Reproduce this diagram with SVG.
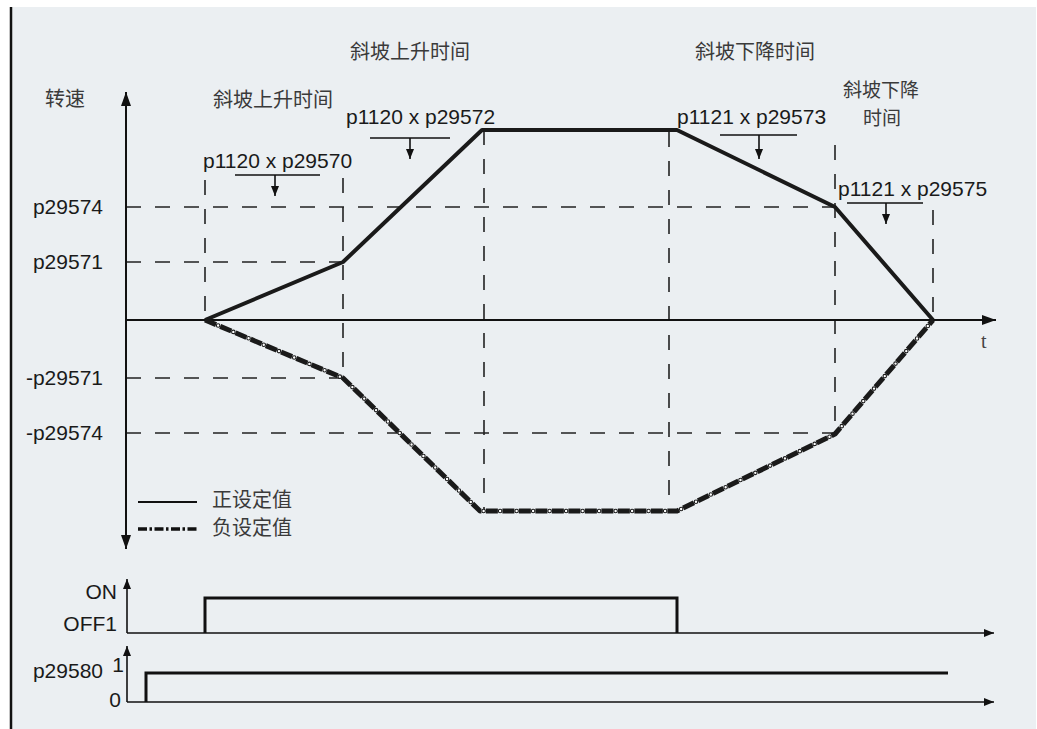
<svg xmlns="http://www.w3.org/2000/svg" width="1037" height="729" viewBox="0 0 1037 729">
<defs>
<style>
.lat{font-family:"Liberation Sans",Arial,sans-serif;font-size:21px;fill:#1a1a1a}
.cjk{font-family:"Noto Sans CJK SC",sans-serif;font-size:20px;fill:#3a3a3a}
.axis{stroke:#111;stroke-width:2;fill:none}
.dash{stroke:#222;stroke-width:1.6;stroke-dasharray:15 14;fill:none}
.thin{stroke:#111;stroke-width:1.6;fill:none}
.sig{stroke:#111;stroke-width:3;fill:none}
.curve{stroke:#1a1a1a;stroke-width:4;fill:none;stroke-linejoin:round}
</style>
<marker id="big" markerUnits="userSpaceOnUse" markerWidth="14" markerHeight="10" refX="14" refY="5" orient="auto">
<path d="M0,0 L14,5 L0,10 z" fill="#111"/>
</marker>
<marker id="sml" markerUnits="userSpaceOnUse" markerWidth="10" markerHeight="8" refX="10" refY="4" orient="auto">
<path d="M0,0 L10,4 L0,8 z" fill="#111"/>
</marker>
<marker id="brk" markerUnits="userSpaceOnUse" markerWidth="10" markerHeight="8" refX="10" refY="4" orient="auto">
<path d="M0,0 L10,4 L0,8 z" fill="#111"/>
</marker>
</defs>

<rect x="0" y="0" width="1037" height="729" fill="#ffffff"/>
<rect x="10" y="7" width="1026" height="722" fill="#ebeff2"/>
<line x1="11" y1="7" x2="11" y2="729" stroke="#111" stroke-width="2.5"/>

<g id="guides">
<line class="dash" x1="126" y1="207" x2="835" y2="207"/>
<line class="dash" x1="126" y1="262" x2="343" y2="262"/>
<line class="dash" x1="126" y1="378" x2="343" y2="378"/>
<line class="dash" x1="126" y1="433" x2="835" y2="433"/>
<line class="dash" x1="205" y1="180" x2="205" y2="320"/>
<line class="dash" x1="343" y1="178" x2="343" y2="378"/>
<line class="dash" x1="484" y1="130" x2="484" y2="510"/>
<line class="dash" x1="669" y1="132" x2="669" y2="510"/>
<line class="dash" x1="835" y1="145" x2="835" y2="433"/>
<line class="dash" x1="933" y1="210" x2="933" y2="320"/>
</g>

<g id="axes">
<line class="axis" x1="126" y1="320" x2="126" y2="92" marker-end="url(#big)"/>
<line class="axis" x1="126" y1="320" x2="126" y2="549" marker-end="url(#big)"/>
<line class="axis" x1="126" y1="320" x2="996" y2="320" marker-end="url(#big)"/>
<text x="981" y="348" font-family="Liberation Serif,serif" font-size="20" fill="#444">t</text>
</g>

<g id="curves">
<polyline class="curve" points="205,320 343,262 482,130 677,130 835,207 933,320"/>
<g id="negative">
<polyline points="205,320 343,378 480,511 677,511 835,434 933,320" fill="none" stroke="#1a1a1a" stroke-width="5" stroke-linejoin="round" stroke-dasharray="12 4.5"/>
<polyline points="205,320 343,378 480,511 677,511 835,434 933,320" fill="none" stroke="#1a1a1a" stroke-width="4.6" stroke-linecap="round" stroke-dasharray="0 16.5" stroke-dashoffset="2.25"/>
<polyline points="205,320 343,378 480,511 677,511 835,434 933,320" fill="none" stroke="#ffffff" stroke-width="2.4" stroke-linecap="round" stroke-dasharray="0 16.5" stroke-dashoffset="2.25"/>
</g>
</g>

<g id="ylabels">
<text class="lat" x="103" y="214" text-anchor="end">p29574</text>
<text class="lat" x="103" y="269" text-anchor="end">p29571</text>
<text class="lat" x="103" y="385" text-anchor="end">-p29571</text>
<text class="lat" x="103" y="440" text-anchor="end">-p29574</text>
<text class="cjk" x="45" y="106">转速</text>
</g>

<g id="ramp-up-1">
<text class="cjk" x="213" y="107">斜坡上升时间</text>
<text class="lat" x="203" y="168">p1120 x p29570</text>
<line class="thin" x1="235" y1="175" x2="320" y2="175"/>
<line class="thin" x1="275" y1="175" x2="275" y2="196" marker-end="url(#brk)"/>
</g>

<g id="ramp-up-2">
<text class="cjk" x="350" y="59">斜坡上升时间</text>
<text class="lat" x="346" y="124">p1120 x p29572</text>
<line class="thin" x1="370" y1="138" x2="450" y2="138"/>
<line class="thin" x1="410" y1="138" x2="410" y2="159" marker-end="url(#brk)"/>
</g>

<g id="ramp-down-1">
<text class="cjk" x="695" y="59">斜坡下降时间</text>
<text class="lat" x="677" y="124">p1121 x p29573</text>
<line class="thin" x1="720" y1="135" x2="797" y2="135"/>
<line class="thin" x1="759" y1="135" x2="759" y2="159" marker-end="url(#brk)"/>
</g>

<g id="ramp-down-2">
<text class="cjk" x="843" y="97" style="font-size:19px">斜坡下降</text>
<text class="cjk" x="863" y="125" style="font-size:19px">时间</text>
<text class="lat" x="838" y="196">p1121 x p29575</text>
<line class="thin" x1="847" y1="203" x2="923" y2="203"/>
<line class="thin" x1="886" y1="203" x2="886" y2="224" marker-end="url(#brk)"/>
</g>

<g id="legend">
<line x1="138" y1="502" x2="197" y2="502" stroke="#111" stroke-width="1.8"/>
<text class="cjk" x="212" y="507">正设定值</text>
<line x1="138" y1="529" x2="197" y2="529" stroke="#111" stroke-width="3.5" stroke-dasharray="9 2.5 2.5 2.5"/>
<text class="cjk" x="212" y="535">负设定值</text>
</g>

<g id="on-off">
<line class="thin" x1="127" y1="633" x2="127" y2="579" marker-end="url(#sml)"/>
<line class="thin" x1="127" y1="633" x2="994" y2="633" marker-end="url(#sml)"/>
<path class="sig" d="M205,633 V598 H677 V633"/>
<text class="lat" x="117" y="599" text-anchor="end">ON</text>
<text class="lat" x="117" y="631" text-anchor="end">OFF1</text>
</g>

<g id="p29580">
<line class="thin" x1="127" y1="702" x2="127" y2="646" marker-end="url(#sml)"/>
<line class="thin" x1="127" y1="702" x2="994" y2="702" marker-end="url(#sml)"/>
<path class="sig" d="M146,702 V673 H948"/>
<text class="lat" x="103" y="678" text-anchor="end">p29580</text>
<text class="lat" x="124" y="672" text-anchor="end">1</text>
<text class="lat" x="121" y="707" text-anchor="end">0</text>
</g>
</svg>
